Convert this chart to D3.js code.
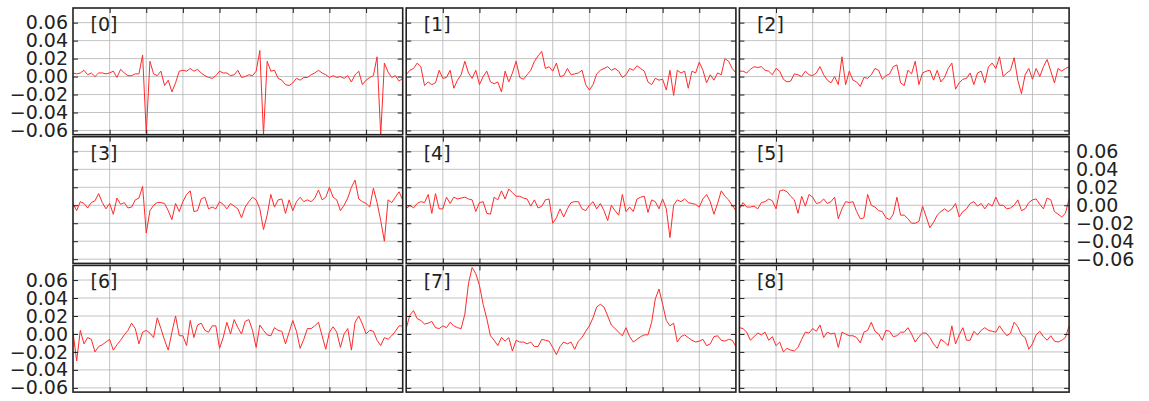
<!DOCTYPE html>
<html>
<head>
<meta charset="utf-8">
<script src="https://cdn.jsdelivr.net/npm/d3@7"></script>
<style>
  body { margin: 0; background: #fff; }
  svg { display: block; }
</style>
</head>
<body>
<div id="chart"></div>
<script>
// values, one sample every 10 x-units (0..900)
const series0 = [
  .004,.003,.004,.007,.002,.004,.000,.004,.004,.003,
  .004,.006,-.001,.008,.004,.001,.001,.003,.003,.024,
  -.063,.017,.003,.001,.006,-.010,-.004,-.017,-.007,.006,
  .007,.006,.009,.006,.008,.004,.001,-.001,-.002,.001,
  .006,.004,.004,.001,.002,.007,-.001,.000,.002,.001,
  .006,.029,-.065,.017,.006,.007,-.002,-.004,-.009,-.010,
  -.007,-.002,-.004,-.001,-.001,.002,.004,.007,.004,.002,
  -.001,.001,-.001,.000,-.002,.001,-.006,.002,.006,-.009,
  -.004,-.001,.001,.022,-.065,.015,.005,-.001,.001,-.005,-.002]
const series1 = [
  .002,.007,.009,.015,.011,-.010,-.006,-.009,-.007,.007,
  -.002,-.001,.007,-.013,-.004,.002,.017,.004,-.002,.007,
  -.009,.000,.006,-.006,-.008,-.006,-.017,.006,-.006,.004,
  .017,-.001,-.003,.002,.007,.017,.023,.028,.009,.011,
  .006,.015,.000,.001,.009,.002,.003,.004,.007,-.009,
  -.015,-.009,.003,.007,.009,.011,.007,.009,.006,-.001,
  .002,.009,.007,.012,.009,.006,-.006,-.009,-.002,-.004,
  -.003,-.015,.007,-.021,.007,.004,.006,-.013,.006,.004,
  .016,.007,-.007,.002,-.004,.004,.002,.020,.017,.009,.004]
const series2 = [
  .006,.006,.004,.008,.011,.010,.011,.007,.006,.002,
  .009,.006,-.003,-.006,-.005,.003,.002,.000,.006,.002,
  .001,.004,.011,.002,-.004,-.007,.000,-.009,.022,-.009,
  .006,-.004,-.006,-.011,-.001,-.002,.002,.009,.007,-.003,
  .001,.003,.011,.013,-.007,-.010,.007,.003,.017,-.009,
  .004,.006,.007,-.004,.007,-.006,-.001,.009,.015,-.014,
  -.007,-.003,-.002,.004,-.009,.004,.006,-.007,.011,.015,
  .009,.022,.000,.004,.007,.021,-.004,-.019,.002,.009,
  -.003,.009,.000,.011,.019,.006,-.007,.009,.006,.009,.011]
const series3 = [
  .002,-.006,.004,.002,-.003,.003,.005,.013,.003,-.004,
  .002,-.010,.008,.001,.003,-.003,-.002,.006,.008,.021,
  -.031,-.006,.000,.003,.003,.002,-.006,-.016,.002,-.007,
  .004,.012,.016,-.007,-.006,.007,.009,-.004,-.002,-.004,
  .004,.001,-.004,.002,-.001,-.004,-.014,-.002,.004,.009,
  .006,-.004,-.027,-.011,.012,-.002,.006,.007,-.009,.006,
  -.006,.004,.009,.004,.006,.004,.008,.017,.006,.009,
  .020,.009,.006,-.006,.000,.008,.020,.028,.007,.004,
  .002,-.002,.019,.003,-.017,-.040,.006,.003,.009,.015,.006]
const series4 = [
  -.004,.000,-.003,.002,.004,.003,.012,-.009,.013,-.004,
  -.004,.009,.002,.009,.007,.008,.009,.007,.006,-.007,
  .003,.004,-.009,-.010,.009,.006,.016,.007,.018,.014,
  .010,.010,.008,.007,-.001,.006,-.003,-.001,.006,.007,
  -.020,-.014,-.004,-.013,-.004,.003,.004,.004,-.004,-.006,
  .000,.004,-.004,.002,-.006,-.017,.000,-.006,-.011,.012,
  -.007,-.002,-.007,.007,.009,.010,-.008,.006,.004,-.004,
  .007,-.004,-.036,.000,.006,.004,.007,.003,.002,.001,
  -.002,.007,.012,.004,-.010,.002,.016,.010,.006,.000,-.006]
const series5 = [
  -.004,.003,-.002,-.002,-.001,-.004,.003,.004,.007,.005,
  -.004,.016,.017,.015,.010,.006,-.009,.010,-.001,.012,
  .009,.002,.003,.007,.002,.004,.009,-.015,-.004,.004,
  .003,.004,-.007,-.015,-.014,.012,.000,-.002,-.006,-.007,
  -.014,-.016,-.010,.009,-.011,-.011,-.015,-.020,-.020,-.018,
  -.001,-.013,-.025,-.019,-.011,-.007,-.004,-.007,-.004,.002,
  -.013,-.007,-.004,.002,.004,-.001,.002,-.004,.002,-.001,
  .009,.000,.000,-.004,-.003,.000,.006,-.006,-.004,.003,
  .006,.007,.001,-.004,.008,.006,-.007,-.010,-.013,-.009,.007]
const series6 = [
  .002,-.030,.004,-.011,-.004,-.006,-.020,-.014,-.012,-.009,
  -.006,-.018,-.012,-.007,-.001,.004,.012,.006,-.011,.002,
  .004,.001,-.004,.018,.006,-.007,-.018,.002,.020,-.002,
  -.002,-.013,.015,-.004,.010,.012,.004,.002,.009,.009,
  -.016,-.004,.013,.000,.016,.007,.000,.014,.016,.004,
  -.015,.010,.004,-.001,-.002,.007,.004,.003,-.011,.002,
  .015,.003,-.016,-.006,.006,.006,.009,.013,-.002,-.017,
  .002,.008,.002,-.015,.000,.006,-.018,.013,.020,.011,
  .000,.004,.003,-.007,-.013,-.004,-.006,-.002,.003,.009,.009]
const series7 = [
  .006,.021,.026,.017,.015,.011,.012,.014,.007,.006,
  .009,.007,.013,.009,.007,.006,.022,.056,.074,.067,
  .054,.033,.017,-.002,-.007,-.013,-.004,-.008,-.004,-.019,
  -.007,-.009,-.009,-.011,-.009,-.014,-.014,-.006,-.007,-.008,
  -.015,-.023,-.014,-.009,-.011,-.009,-.017,-.008,-.004,.003,
  .009,.018,.030,.033,.030,.020,.010,.006,.002,-.002,
  .007,-.003,-.009,-.006,-.003,-.001,-.001,.013,.039,.050,
  .033,.015,.009,.012,-.009,-.003,-.001,-.004,-.007,-.009,
  -.008,-.006,-.013,-.011,-.003,-.002,-.007,-.008,-.006,-.007,-.014]
const series8 = [
  .007,.006,.002,-.007,-.003,.001,-.001,.002,-.007,-.003,
  -.013,-.009,-.020,-.016,-.018,-.019,-.015,-.006,.002,.001,
  .006,.003,.010,-.004,.002,.000,.001,-.015,.002,.000,
  -.002,-.002,-.004,-.010,.002,.004,.013,.003,.000,-.007,
  .004,.003,-.003,-.002,.002,.002,.007,.000,-.009,-.003,
  .001,.001,-.004,-.011,-.016,-.006,-.009,-.013,.009,-.011,
  -.001,.007,-.007,-.007,.003,-.001,.004,.007,.004,.003,
  .002,.009,.003,-.002,.001,.013,.008,-.001,-.004,-.017,
  -.011,-.001,.003,-.003,-.007,-.002,-.008,-.009,-.007,-.004,.009]

const allSeries = [series0, series1, series2, series3, series4, series5, series6, series7, series8]
const panelLabels = ["[0]", "[1]", "[2]", "[3]", "[4]", "[5]", "[6]", "[7]", "[8]"]
const yTicks = [-0.06, -0.04, -0.02, 0, 0.02, 0.04, 0.06]
const xTicks = [100, 200, 300, 400, 500, 600, 700, 800]
const xStep = 10
const xDomain = [0, 900]
const yDomain = [-0.0647, 0.0763]

const width = 1149, height = 401
const marginLeft = 73, marginTop = 8
const panelW = 329.7, panelH = 126.7
const gapX = 3.5, gapY = 2
const font = "'DejaVu Sans', sans-serif"
const textColor = "#222"

const svg = d3.select("#chart")
  .append("svg")
  .attr("width", width)
  .attr("height", height)
  .attr("viewBox", [0, 0, width, height])

const x = d3.scaleLinear().domain(xDomain).range([0, panelW])
const y = d3.scaleLinear().domain(yDomain).range([panelH, 0])
const fmt = d3.format(".2f")

const line = d3.line()
  .x((d, i) => x(i * xStep))
  .y(d => y(d))

allSeries.forEach((values, i) => {
  const row = Math.floor(i / 3), col = i % 3
  const px = marginLeft + col * (panelW + gapX)
  const py = marginTop + row * (panelH + gapY)
  const g = svg.append("g").attr("transform", `translate(${px},${py})`)

  // rejilla
  g.append("g").selectAll("line").data(xTicks).join("line")
    .attr("x1", d => x(d)).attr("x2", d => x(d))
    .attr("y1", 0).attr("y2", panelH)
    .attr("stroke", "#b4b4b4").attr("stroke-width", 0.8)
  g.append("g").selectAll("line").data(yTicks).join("line")
    .attr("x1", 0).attr("x2", panelW)
    .attr("y1", d => y(d)).attr("y2", d => y(d))
    .attr("stroke", "#b4b4b4").attr("stroke-width", 0.8)

  const clipId = `clip-${i}`
  g.append("clipPath").attr("id", clipId)
    .append("rect").attr("width", panelW).attr("height", panelH)

  g.append("path")
    .datum(values)
    .attr("clip-path", `url(#${clipId})`)
    .attr("fill", "none")
    .attr("stroke", "#ff2a2a")
    .attr("stroke-width", 1)
    .attr("stroke-linejoin", "round")
    .attr("d", line)

  // marco
  g.append("rect")
    .attr("width", panelW).attr("height", panelH)
    .attr("fill", "none").attr("stroke", "#222").attr("stroke-width", 1.6)

  // ticks hacia dentro en los cuatro lados
  const showLeft = col === 0 && row !== 1
  const showRight = col === 2 && row === 1

  g.append("g")
    .call(d3.axisLeft(y).tickValues(yTicks).tickSize(-5).tickPadding(5)
      .tickFormat(showLeft ? fmt : ""))
    .call(a => a.select(".domain").remove())
    .attr("font-size", 19).attr("font-family", font).attr("color", textColor)

  g.append("g")
    .attr("transform", `translate(${panelW},0)`)
    .call(d3.axisRight(y).tickValues(yTicks).tickSize(-5).tickPadding(7)
      .tickFormat(showRight ? fmt : ""))
    .call(a => a.select(".domain").remove())
    .attr("font-size", 19).attr("font-family", font).attr("color", textColor)

  g.append("g")
    .call(d3.axisBottom(x).tickValues(xTicks).tickSize(5).tickFormat(""))
    .call(a => a.select(".domain").remove())
    .attr("color", textColor)

  g.append("g")
    .attr("transform", `translate(0,${panelH})`)
    .call(d3.axisTop(x).tickValues(xTicks).tickSize(5).tickFormat(""))
    .call(a => a.select(".domain").remove())
    .attr("color", textColor)

  g.append("text")
    .attr("x", 17.5).attr("y", 23)
    .attr("font-family", font).attr("font-size", 19)
    .attr("fill", textColor)
    .text(panelLabels[i])
})
</script>
</body>
</html>
